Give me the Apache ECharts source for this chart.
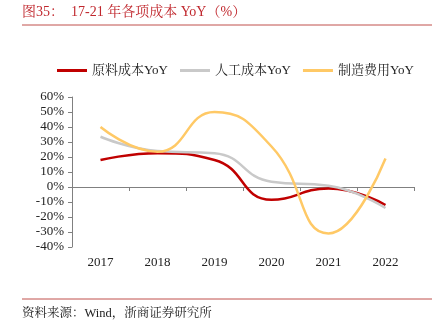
<!DOCTYPE html>
<html><head><meta charset="utf-8">
<script src="https://cdn.jsdelivr.net/npm/echarts@6/dist/echarts.min.js"></script>
<style>html,body{margin:0;padding:0;background:#fff}#c{width:441px;height:327px}</style>
</head><body><div id="c"></div>
<script>
var categories = ['2017','2018','2019','2020','2021','2022'];
var rawMaterial = [18, 22.5, 18, -8.5, -1, -12];
var labor = [33.5, 24, 22.5, 3.5, 0.8, -14];
var manufacturing = [40, 23.5, 50, 27, -31, 19];
var seriesNames = ['原料成本YoY','人工成本YoY','制造费用YoY'];
var titleText = '图35：  17-21 年各项成本 YoY（%）';
var sourceText = '资料来源：Wind，浙商证券研究所';

var serif = '"Liberation Serif","Noto Serif CJK SC","Noto Sans CJK SC",serif';
var chart = echarts.init(document.getElementById('c'));
chart.setOption({
  animation: false,
  textStyle: {fontFamily: serif},
  graphic: [
    {type:'text', left:22, top:5, style:{text:titleText, fill:'#C0272D', font:'14px ' + serif}},
    {type:'line', shape:{x1:22,y1:25,x2:432,y2:25}, style:{stroke:'#C0504D', lineWidth:1}},
    {type:'line', shape:{x1:22,y1:299,x2:432,y2:299}, style:{stroke:'#C0504D', lineWidth:1}},
    {type:'text', left:22, top:307, style:{text:sourceText, fill:'#222', font:'12.5px ' + serif}}
  ],
  legend: {
    top: 59, left: 52,
    itemWidth: 30, itemHeight: 3, itemGap: 12,
    icon: 'rect',
    textStyle: {fontSize: 13, color: '#222', fontFamily: serif},
    data: seriesNames
  },
  grid: {left: 72, right: 27, top: 97, bottom: 80},
  xAxis: [
    {type:'category', data: categories, boundaryGap: true,
     axisLine:{onZero:true, lineStyle:{color:'#808080'}},
     axisTick:{show:true, length:4, lineStyle:{color:'#808080'}},
     axisLabel:{show:false}},
    {type:'category', data: categories, boundaryGap: true, position:'bottom',
     axisLine:{show:false}, axisTick:{show:false},
     axisLabel:{show:true, margin:9, fontSize:13, color:'#222', fontFamily: serif}}
  ],
  yAxis: {
    type:'value', min:-40, max:60, interval:10,
    axisLine:{show:true, lineStyle:{color:'#808080'}},
    axisTick:{show:true, length:4, lineStyle:{color:'#808080'}},
    splitLine:{show:false},
    axisLabel:{formatter:'{value}%', fontSize:13, color:'#222', margin:8, fontFamily: serif}
  },
  series: [
    {name: seriesNames[0], type:'line', data: rawMaterial, smooth: 0.5, symbol:'none', xAxisIndex:0,
     lineStyle:{color:'#C00000', width:2.5}, itemStyle:{color:'#C00000'}},
    {name: seriesNames[1], type:'line', data: labor, smooth: 0.5, symbol:'none', xAxisIndex:0,
     lineStyle:{color:'#C9C9C9', width:2.5}, itemStyle:{color:'#C9C9C9'}},
    {name: seriesNames[2], type:'line', data: manufacturing, smooth: 0.5, symbol:'none', xAxisIndex:0,
     lineStyle:{color:'#FFC966', width:2.5}, itemStyle:{color:'#FFC966'}}
  ]
});
</script></body></html>
